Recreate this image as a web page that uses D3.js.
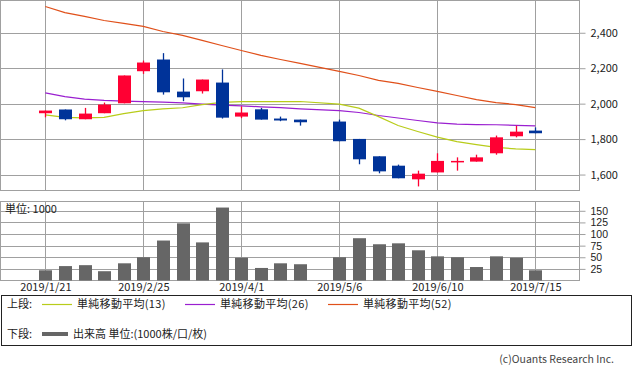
<!DOCTYPE html>
<html>
  <head>
    <meta charset="utf-8" />
    <script src="https://cdn.jsdelivr.net/npm/d3@7"></script>
    <style>
      body { margin: 0; background: #fff; }
      text { font-family: "Noto Sans CJK JP", "DejaVu Sans", sans-serif; }
    </style>
  </head>
  <body>
    <div id="container"></div>
    <script>
      // weekly candles (4/29 week has no data)
      const dates = ["2019-01-21", "2019-01-28", "2019-02-04", "2019-02-11", "2019-02-18",
        "2019-02-25", "2019-03-04", "2019-03-11", "2019-03-18", "2019-03-25",
        "2019-04-01", "2019-04-08", "2019-04-15", "2019-04-22", "2019-05-06",
        "2019-05-13", "2019-05-20", "2019-05-27", "2019-06-03", "2019-06-10",
        "2019-06-17", "2019-06-24", "2019-07-01", "2019-07-08", "2019-07-15"];
      const open  = [1946, 1967, 1912, 1946, 2002, 2183, 2249, 2068, 2070, 2119, 1927, 1968, 1916, 1910, 1899, 1801, 1703, 1650, 1573, 1612, 1677, 1673, 1720, 1816, 1848];
      const high  = [1961, 1967, 1976, 2006, 2159, 2243, 2285, 2142, 2136, 2193, 1984, 1976, 1927, 1910, 1910, 1801, 1703, 1656, 1622, 1720, 1697, 1712, 1820, 1876, 1866];
      const low   = [1923, 1906, 1912, 1946, 2002, 2168, 2051, 2014, 2057, 1916, 1918, 1910, 1901, 1876, 1788, 1658, 1607, 1579, 1533, 1612, 1622, 1673, 1712, 1810, 1833];
      const close = [1961, 1912, 1944, 1995, 2159, 2232, 2064, 2036, 2136, 1921, 1950, 1910, 1905, 1895, 1788, 1686, 1618, 1579, 1605, 1677, 1677, 1697, 1810, 1842, 1833];
      const volume = [22, 31, 33, 20, 37, 50, 86, 123, 82, 157, 49, 27, 37, 35, 50, 91, 78, 80, 65, 52, 50, 29, 52, 49, 22];
      const ma13 = [1937, 1923, 1920, 1923, 1944, 1961, 1970, 1977, 1995, 2007, 2012, 2012, 2012, 2012, 1997, 1975, 1927, 1877, 1843, 1811, 1786, 1769, 1753, 1745, 1741];
      const ma26 = [2061, 2040, 2026, 2018, 2014, 2012, 2009, 2004, 1997, 1992, 1988, 1982, 1978, 1971, 1961, 1950, 1933, 1919, 1905, 1892, 1885, 1882, 1881, 1878, 1875];
      const ma52 = [2548, 2514, 2492, 2469, 2453, 2436, 2407, 2385, 2357, 2328, 2300, 2272, 2249, 2227, 2182, 2159, 2131, 2114, 2091, 2069, 2046, 2023, 2006, 1995, 1978];

      const tickDates = ["2019-01-21", "2019-02-25", "2019-04-01", "2019-05-06", "2019-06-10", "2019-07-15"];
      const tickLabels = ["2019/1/21", "2019/2/25", "2019/4/1", "2019/5/6", "2019/6/10", "2019/7/15"];
      const priceTicks = [1600, 1800, 2000, 2200, 2400];
      const volTicks = [25, 50, 75, 100, 125, 150];

      const W = 633, H = 372;
      const plotL = 0.5, plotR = 579.5;
      const topT = 0.5, topB = 190.5;
      const volT = 201.5, volB = 280.5;
      const gridCol = "#a0a0a0";
      const upCol = "#ff0033", downCol = "#003399";

      const parse = d3.utcParse("%Y-%m-%d");
      const rows = dates.map((d, i) => ({
        date: parse(d), o: open[i], h: high[i], l: low[i], c: close[i],
        v: volume[i], m13: ma13[i], m26: ma26[i], m52: ma52[i]
      }));

      const x = d3.scaleUtc()
        .domain([parse(dates[0]), parse(dates[dates.length - 1])])
        .range([45.3, 535.3]);
      const y = d3.scaleLinear().domain([1510, 2582]).range([topB, topT]);
      const yv = d3.scaleLinear().domain([0, 170]).range([volB, volT]);

      const svg = d3.select("#container").append("svg")
        .attr("width", W).attr("height", H)
        .style("display", "block");

      // ---- price panel ----
      const gx = tickDates.map(parse);
      svg.append("g").selectAll("line").data(gx).join("line")
        .attr("x1", d => Math.round(x(d)) + 0.5).attr("x2", d => Math.round(x(d)) + 0.5)
        .attr("y1", topT).attr("y2", topB)
        .attr("stroke", gridCol);

      const yAxis = d3.axisRight(y).tickValues(priceTicks)
        .tickSize(6).tickPadding(5).tickFormat(d3.format(","));
      const ya = svg.append("g")
        .attr("transform", `translate(${plotR},0)`)
        .call(yAxis);
      ya.select(".domain").remove();
      ya.selectAll("line").attr("stroke", gridCol);
      ya.selectAll("text").attr("font-size", 11).attr("fill", "#222");
      svg.append("g").selectAll("line").data(priceTicks).join("line")
        .attr("x1", plotL).attr("x2", plotR)
        .attr("y1", d => Math.round(y(d)) + 0.5).attr("y2", d => Math.round(y(d)) + 0.5)
        .attr("stroke", gridCol);

      svg.append("rect")
        .attr("x", plotL).attr("y", topT)
        .attr("width", plotR - plotL).attr("height", topB - topT)
        .attr("fill", "none").attr("stroke", gridCol);

      // moving averages
      const maDefs = [
        { key: "m52", color: "#e0501a" },
        { key: "m26", color: "#9a1fd0" },
        { key: "m13", color: "#b8cc1a" }
      ];
      maDefs.forEach(m => {
        svg.append("path")
          .datum(rows)
          .attr("fill", "none")
          .attr("stroke", m.color)
          .attr("stroke-width", 1.2)
          .attr("d", d3.line().x(d => x(d.date)).y(d => y(d[m.key])));
      });

      // candles
      const bw = 13;
      const cg = svg.append("g").selectAll("g").data(rows).join("g");
      cg.append("line")
        .attr("x1", d => Math.round(x(d.date)) + 0.5)
        .attr("x2", d => Math.round(x(d.date)) + 0.5)
        .attr("y1", d => y(d.h)).attr("y2", d => y(d.l))
        .attr("stroke", d => d.c >= d.o ? upCol : downCol)
        .attr("stroke-width", 1.3);
      cg.append("rect")
        .attr("x", d => Math.round(x(d.date)) - (bw - 1) / 2)
        .attr("y", d => y(Math.max(d.o, d.c)))
        .attr("width", bw)
        .attr("height", d => Math.max(1.5, Math.abs(y(d.o) - y(d.c))))
        .attr("fill", d => d.c >= d.o ? upCol : downCol);

      // ---- volume panel ----
      svg.append("g").selectAll("line").data(gx).join("line")
        .attr("x1", d => Math.round(x(d)) + 0.5).attr("x2", d => Math.round(x(d)) + 0.5)
        .attr("y1", volT).attr("y2", volB)
        .attr("stroke", gridCol);
      svg.append("g").selectAll("line").data(volTicks).join("line")
        .attr("x1", plotL).attr("x2", plotR)
        .attr("y1", d => Math.round(yv(d)) + 0.5).attr("y2", d => Math.round(yv(d)) + 0.5)
        .attr("stroke", gridCol);

      // tight tick spacing here, so a font with a smaller line box
      const va = svg.append("g")
        .attr("transform", `translate(${plotR},0)`)
        .call(d3.axisRight(yv).tickValues(volTicks).tickSize(6).tickPadding(5));
      va.select(".domain").remove();
      va.selectAll("line").attr("stroke", gridCol);
      va.selectAll("text")
        .attr("font-size", 10.5)
        .style("font-family", "'Liberation Sans', sans-serif")
        .attr("fill", "#222");

      svg.append("rect")
        .attr("x", plotL).attr("y", volT)
        .attr("width", plotR - plotL).attr("height", volB - volT)
        .attr("fill", "none").attr("stroke", gridCol);

      svg.append("g").selectAll("rect").data(rows).join("rect")
        .attr("x", d => Math.round(x(d.date)) - (bw - 1) / 2)
        .attr("y", d => yv(d.v))
        .attr("width", bw)
        .attr("height", d => volB - yv(d.v))
        .attr("fill", "#666666");

      svg.append("text")
        .attr("x", 5).attr("y", 213)
        .attr("font-size", 11).attr("fill", "#222")
        .text("単位: 1000");

      // date labels
      const xa = svg.append("g")
        .attr("transform", `translate(0,${volB})`)
        .call(d3.axisBottom(x).tickValues(gx).tickSize(0).tickPadding(3)
          .tickFormat((d, i) => tickLabels[i]));
      xa.select(".domain").remove();
      xa.selectAll("text").attr("font-size", 11).attr("fill", "#222");

      // ---- legend ----
      svg.append("rect")
        .attr("x", 1.5).attr("y", 295.5)
        .attr("width", 630).attr("height", 50)
        .attr("fill", "none").attr("stroke", "#222");

      const leg = svg.append("g").attr("font-size", 11).attr("fill", "#222");
      leg.append("text").attr("x", 7).attr("y", 308).text("上段:");
      const legItems = [
        { x: 42, label: "単純移動平均(13)", color: "#b8cc1a" },
        { x: 185, label: "単純移動平均(26)", color: "#9a1fd0" },
        { x: 328, label: "単純移動平均(52)", color: "#e0501a" }
      ];
      legItems.forEach(it => {
        leg.append("line")
          .attr("x1", it.x).attr("x2", it.x + 30)
          .attr("y1", 304.5).attr("y2", 304.5)
          .attr("stroke", it.color).attr("stroke-width", 1.2);
        leg.append("text").attr("x", it.x + 35).attr("y", 308)
          .attr("letter-spacing", 0.3).text(it.label);
      });
      leg.append("text").attr("x", 7).attr("y", 338).text("下段:");
      leg.append("line")
        .attr("x1", 42).attr("x2", 68)
        .attr("y1", 334).attr("y2", 334)
        .attr("stroke", "#666666").attr("stroke-width", 4);
      leg.append("text").attr("x", 73).attr("y", 338).text("出来高 単位:(1000株/口/枚)");

      svg.append("text")
        .attr("x", 614).attr("y", 363)
        .attr("text-anchor", "end")
        .attr("font-size", 10.5).attr("fill", "#444")
        .text("(c)Ouants Research Inc.");
    </script>
  </body>
</html>
